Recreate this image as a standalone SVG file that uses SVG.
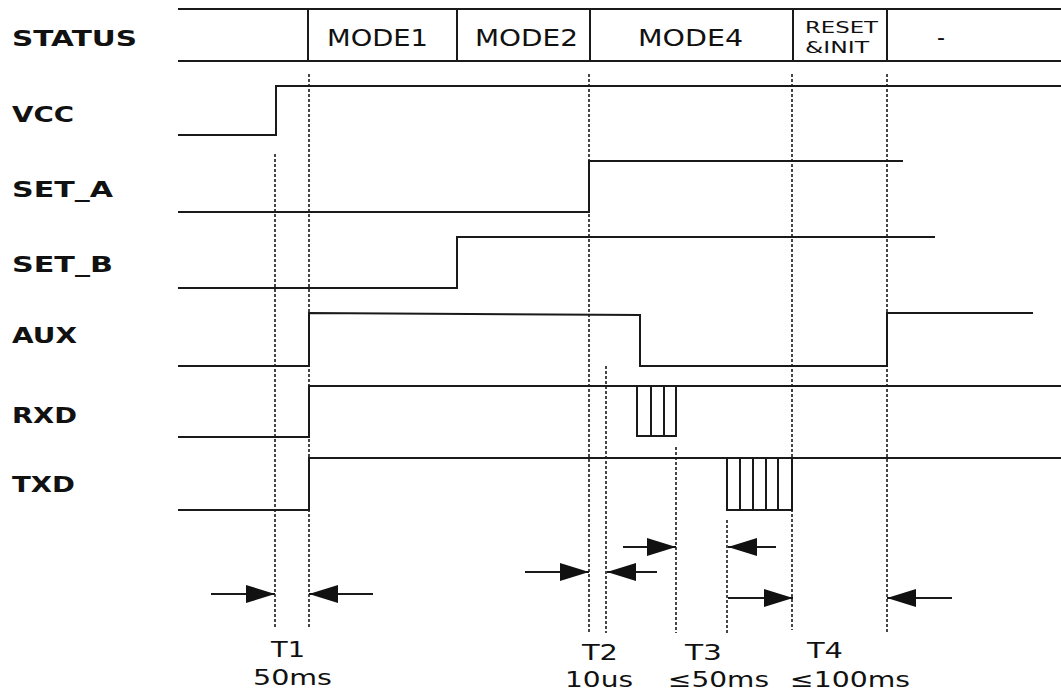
<svg xmlns="http://www.w3.org/2000/svg" width="1061" height="693" viewBox="0 0 1061 693">
<style>
.bg{fill:#fff}
.w{fill:none;stroke:#1a1a1a;stroke-width:2;stroke-linejoin:miter}
.d{fill:none;stroke:#1a1a1a;stroke-width:1.6;stroke-dasharray:3 2}
.a{fill:none;stroke:#1a1a1a;stroke-width:2}
.lbl{font-family:"DejaVu Sans",Verdana,sans-serif;font-weight:bold;font-size:22px;fill:#111}
.t{font-family:"DejaVu Sans",Verdana,sans-serif;font-size:23px;fill:#111}
.s{font-family:"DejaVu Sans",Verdana,sans-serif;font-size:16px;fill:#111}
.m{font-family:"DejaVu Sans",Verdana,sans-serif;font-size:21px;fill:#111}
</style>
<defs>
<marker id="ah" markerUnits="userSpaceOnUse" markerWidth="30" markerHeight="18" refX="29" refY="9" orient="auto">
<path d="M0,0 L29,9 L0,18 Z" fill="#111"/>
</marker>
</defs>
<rect class="bg" x="0" y="0" width="1061" height="693"/>

<g id="status">
<text class="lbl" x="12" y="46" textLength="125" lengthAdjust="spacingAndGlyphs">STATUS</text>
<line class="w" x1="178" y1="9" x2="1061" y2="9"/>
<line class="w" x1="178" y1="61" x2="1061" y2="61"/>
<line class="w" x1="308" y1="9" x2="308" y2="61"/>
<line class="w" x1="457" y1="9" x2="457" y2="61"/>
<line class="w" x1="590" y1="9" x2="590" y2="61"/>
<line class="w" x1="793" y1="9" x2="793" y2="61"/>
<line class="w" x1="887" y1="9" x2="887" y2="61"/>
<text class="t" x="327" y="46" textLength="101" lengthAdjust="spacingAndGlyphs">MODE1</text>
<text class="t" x="475" y="46" textLength="103" lengthAdjust="spacingAndGlyphs">MODE2</text>
<text class="t" x="638" y="46" textLength="105" lengthAdjust="spacingAndGlyphs">MODE4</text>
<text class="s" x="805" y="33" textLength="73" lengthAdjust="spacingAndGlyphs">RESET</text>
<text class="s" x="805" y="53" textLength="64" lengthAdjust="spacingAndGlyphs">&amp;INIT</text>
<text class="t" x="937" y="45" textLength="8" lengthAdjust="spacingAndGlyphs">-</text>
</g>

<g id="vcc">
<text class="lbl" x="12" y="122" textLength="62" lengthAdjust="spacingAndGlyphs">VCC</text>
<polyline class="w" points="178,135 276,135 276,86 1061,86"/>
</g>

<g id="set_a">
<text class="lbl" x="12" y="197" textLength="101" lengthAdjust="spacingAndGlyphs">SET_A</text>
<polyline class="w" points="178,212 589,212 589,161 903,161"/>
</g>

<g id="set_b">
<text class="lbl" x="12" y="272" textLength="101" lengthAdjust="spacingAndGlyphs">SET_B</text>
<polyline class="w" points="178,288 457,288 457,237 935,237"/>
</g>

<g id="aux">
<text class="lbl" x="12" y="343" textLength="65" lengthAdjust="spacingAndGlyphs">AUX</text>
<polyline class="w" points="178,366 309,366 309,313 640,315 640,366 887,366 887,313 1033,313"/>
</g>

<g id="rxd">
<text class="lbl" x="12" y="423" textLength="65" lengthAdjust="spacingAndGlyphs">RXD</text>
<polyline class="w" points="178,437 309,437 309,386 1061,386"/>
<rect class="w" x="637" y="386" width="39" height="50"/>
<line class="w" x1="651" y1="386" x2="651" y2="436"/>
<line class="w" x1="664" y1="386" x2="664" y2="436"/>
</g>

<g id="txd">
<text class="lbl" x="12" y="492" textLength="63" lengthAdjust="spacingAndGlyphs">TXD</text>
<polyline class="w" points="178,510 309,510 309,458 1061,458"/>
<rect class="w" x="727" y="458" width="65" height="52"/>
<line class="w" x1="740" y1="458" x2="740" y2="510"/>
<line class="w" x1="753" y1="458" x2="753" y2="510"/>
<line class="w" x1="766" y1="458" x2="766" y2="510"/>
<line class="w" x1="778" y1="458" x2="778" y2="510"/>
</g>

<g id="connectors">
<line class="d" x1="275" y1="154" x2="275" y2="628"/>
<line class="d" x1="309" y1="74" x2="309" y2="628"/>
<line class="d" x1="589" y1="74" x2="589" y2="632"/>
<line class="d" x1="606" y1="366" x2="606" y2="633"/>
<line class="d" x1="676" y1="447" x2="676" y2="633"/>
<line class="d" x1="727" y1="520" x2="727" y2="633"/>
<line class="d" x1="792" y1="74" x2="792" y2="630"/>
<line class="d" x1="887" y1="74" x2="887" y2="633"/>

<line class="a" x1="211" y1="594" x2="275" y2="594" marker-end="url(#ah)"/>
<line class="a" x1="373" y1="594" x2="309" y2="594" marker-end="url(#ah)"/>
<line class="a" x1="525" y1="572" x2="589" y2="572" marker-end="url(#ah)"/>
<line class="a" x1="657" y1="572" x2="607" y2="572" marker-end="url(#ah)"/>
<line class="a" x1="623" y1="547" x2="676" y2="547" marker-end="url(#ah)"/>
<line class="a" x1="776" y1="547" x2="728" y2="547" marker-end="url(#ah)"/>
<line class="a" x1="728" y1="598" x2="793" y2="598" marker-end="url(#ah)"/>
<line class="a" x1="952" y1="598" x2="887" y2="598" marker-end="url(#ah)"/>
</g>

<g id="timings">
<text class="m" x="271" y="657" textLength="34" lengthAdjust="spacingAndGlyphs">T1</text>
<text class="m" x="253" y="685" textLength="79" lengthAdjust="spacingAndGlyphs">50ms</text>
<text class="m" x="582" y="660" textLength="36" lengthAdjust="spacingAndGlyphs">T2</text>
<text class="m" x="565" y="687" textLength="68" lengthAdjust="spacingAndGlyphs">10us</text>
<text class="m" x="685" y="660" textLength="37" lengthAdjust="spacingAndGlyphs">T3</text>
<text class="m" x="668" y="687" textLength="101" lengthAdjust="spacingAndGlyphs">≤50ms</text>
<text class="m" x="807" y="658" textLength="36" lengthAdjust="spacingAndGlyphs">T4</text>
<text class="m" x="790" y="687" textLength="120" lengthAdjust="spacingAndGlyphs">≤100ms</text>
</g>
</svg>
